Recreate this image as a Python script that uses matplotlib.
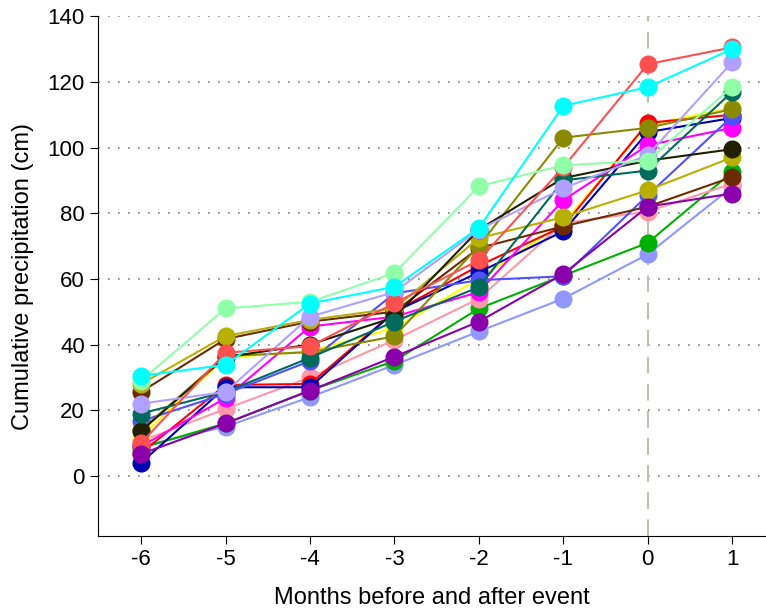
import numpy as np
import matplotlib
matplotlib.use("Agg")
import matplotlib.pyplot as plt

plt.rcParams['font.family'] = ['Liberation Sans', 'DejaVu Sans']
plt.rcParams['axes.unicode_minus'] = False

months = [-6, -5, -4, -3, -2, -1, 0, 1]

# one list per site (cm)
light_blue = [9, 15, 24, 33.8, 44, 54, 67.5, 88]
green = [8.5, 16, 26, 35, 51, 61, 71, 92.5]
pink = [10.6, 20.4, 30, 41.4, 54, 77, 80.5, 89]
yellow = [12, 36, 38, 45, 60, 77, 107, 112]
red = [7, 27.7, 28, 50, 64, 76, 107.5, 110]
navy = [4, 27, 27, 50, 62, 74.5, 104.7, 109]
magenta = [9, 23.7, 45.5, 48.5, 56, 84, 100.7, 106]
blue = [16.7, 25, 35, 55.6, 59.6, 60.8, 85.5, 109.5]
brown = [25.6, 41.7, 47, 50, 69.4, 76, 82, 91]
olive = [28, 42.6, 47.5, 51, 72.4, 78.8, 87, 97]
dark_olive = [14, 36.5, 37.7, 42.5, 70, 103, 106, 111.7]
black_olive = [13.7, 36.2, 40, 48.3, 75, 90.7, 96, 99.5]
teal = [19, 25.6, 36, 47, 57.5, 90, 93, 117]
lavender = [22, 25.6, 48.5, 56, 75, 87.6, 97.7, 126]
salmon = [10, 37.5, 39.5, 52.6, 65.7, 94, 125.4, 130.5]
light_green = [29, 51, 53, 61.8, 88.2, 94.6, 96, 118.5]
cyan = [30.5, 33.8, 52.5, 57.6, 75.5, 112.7, 118.4, 130]
purple = [6.7, 16, 26, 36.3, 47, 61.5, 82, 86]

series = [
    (light_blue, '#9098ff'),
    (green, '#00b000'),
    (pink, '#ff98a8'),
    (yellow, '#ffff00'),
    (red, '#ff0000'),
    (navy, '#0000b0'),
    (magenta, '#ff00ff'),
    (blue, '#5050ff'),
    (brown, '#6b2a00'),
    (dark_olive, '#8a8a00'),
    (olive, '#b8b000'),
    (black_olive, '#202000'),
    (teal, '#006b5a'),
    (lavender, '#b0a0ff'),
    (salmon, '#ff5050'),
    (light_green, '#90ffaa'),
    (cyan, '#00ffff'),
    (purple, '#8a00aa'),
]

fig = plt.figure(figsize=(7.66, 6.13), dpi=100)
ax = fig.add_axes([0.128, 0.1256, 0.872, 0.848])

ax.axvline(0, color='#c0c0b0', lw=1.5, ls=(0, (8, 5)), zorder=1)

for vals, col in series:
    ax.plot(months, vals, '-o', color=col, lw=1.5, ms=12, mec=col, zorder=3)

ax.set_xlim(-6.51, 1.4)
ax.set_ylim(-18.3, 140)
ax.set_xticks(months)
ax.set_yticks(np.arange(0, 141, 20))
ax.yaxis.grid(True, ls=(0, (1, 5)), color='#808080', lw=1.2)
ax.set_axisbelow(True)
ax.spines['top'].set_visible(False)
ax.spines['right'].set_visible(False)
ax.tick_params(labelsize=16, length=6)
ax.set_xlabel('Months before and after event', fontsize=17, labelpad=12)
ax.set_ylabel('Cumulative precipitation (cm)', fontsize=17, labelpad=10)

fig.savefig('out.png', dpi=100)
